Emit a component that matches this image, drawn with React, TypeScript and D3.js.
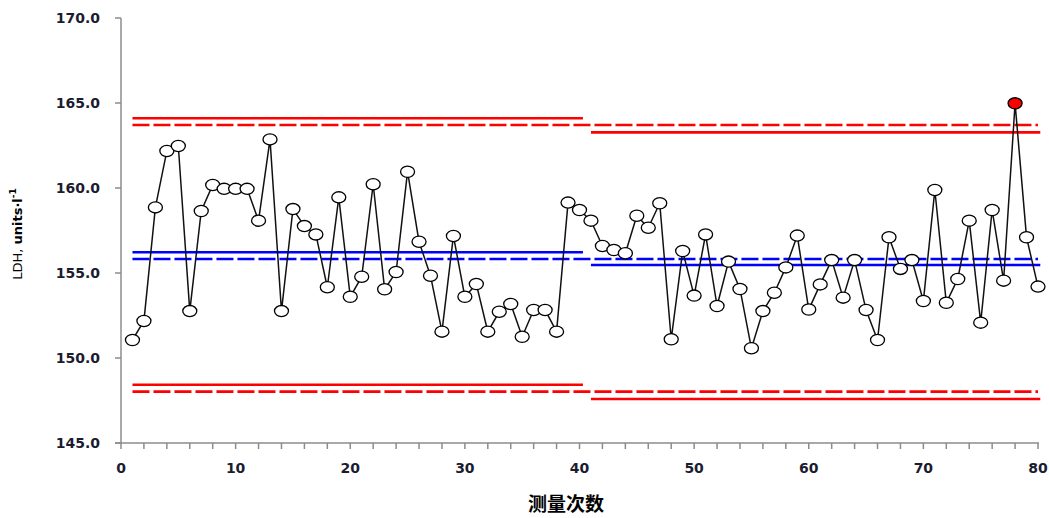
import React from "react";
import * as d3 from "d3";

const runs: number[] = d3.range(1, 81);
const ldh: number[] = [
  151.06, 152.18, 158.86, 162.18, 162.47, 152.76, 158.65, 160.18, 159.95, 159.95,
  159.95, 158.08, 162.86, 152.76, 158.76, 157.76, 157.27, 154.16, 159.45, 153.6,
  154.78, 160.22, 154.04, 155.06, 160.96, 156.84, 154.84, 151.55, 157.18, 153.6,
  154.35, 151.55, 152.72, 153.18, 151.25, 152.82, 152.82, 151.55, 159.14, 158.71,
  158.08, 156.59, 156.35, 156.16, 158.37, 157.66, 159.1, 151.1, 156.29, 153.67,
  157.27, 153.06, 155.67, 154.06, 150.57, 152.76, 153.84, 155.33, 157.2, 152.85,
  154.33, 155.76, 153.55, 155.76, 152.82, 151.06, 157.1, 155.24, 155.76, 153.35,
  159.88, 153.25, 154.65, 158.08, 152.08, 158.71, 154.55, 164.98, 157.1, 154.2,
];
const outOfControl: number[] = [78];

// control lines: [xStart, xEnd, value]
const phaseSolidRed: [number, number, number][] = [
  [1, 40.3, 164.1], [1, 40.3, 148.43],
  [41, 80.2, 163.27], [41, 80.2, 147.59],
];
const phaseSolidBlue: [number, number, number][] = [
  [1, 40.3, 156.22], [41, 80.2, 155.47],
];
const dashedRed: [number, number, number][] = [
  [1, 80, 163.71], [1, 80, 148.02],
];
const dashedBlue: [number, number, number][] = [[1, 80, 155.82]];

const yTicks: number[] = [145, 150, 155, 160, 165, 170];
const xMinorTicks: number[] = d3.range(0, 81, 2);
const xLabels: number[] = [0, 10, 20, 30, 40, 50, 60, 70, 80];

export default function App() {
  const W = 1049, H = 518;
  const x = d3.scaleLinear().domain([0, 80]).range([121, 1038]);
  const y = d3.scaleLinear().domain([145, 170]).range([443, 18]);
  const line = d3.line<number>().x((_, i) => x(runs[i])).y((d) => y(d));
  const axisColor = "#8c8c8c";
  const labelFont = "'DejaVu Sans', Verdana, sans-serif";

  const seg = (arr: [number, number, number][], color: string, dash?: string) =>
    arr.map(([a, b, v], i) => (
      <line key={color + (dash ? "d" : "s") + i} x1={x(a)} x2={x(b)} y1={y(v)} y2={y(v)}
        stroke={color} strokeWidth={2.6} strokeDasharray={dash} />
    ));

  return (
    <svg width={W} height={H} style={{ position: "absolute", left: 0, top: 0, background: "#fff" }}>
      {/* axes */}
      <line x1={x(0)} x2={x(0)} y1={y(170)} y2={y(145)} stroke={axisColor} strokeWidth={1.5} />
      <line x1={x(0) - 6} x2={x(80) + 1} y1={y(145)} y2={y(145)} stroke={axisColor} strokeWidth={1.5} />
      {yTicks.map((t) => (
        <g key={"yt" + t}>
          <line x1={x(0) - 6} x2={x(0)} y1={y(t)} y2={y(t)} stroke={axisColor} strokeWidth={1.5} />
          <text x={100} y={y(t)} dy="0.36em" textAnchor="end" fontFamily={labelFont}
            fontWeight="bold" fontSize={14} fill="#1c1c30">{t.toFixed(1)}</text>
        </g>
      ))}
      {xMinorTicks.map((t) => (
        <line key={"xt" + t} x1={x(t)} x2={x(t)} y1={y(145)} y2={y(145) + 6} stroke={axisColor} strokeWidth={1.5} />
      ))}
      {xLabels.map((t) => (
        <text key={"xl" + t} x={x(t)} y={468} dy="0.36em" textAnchor="middle" fontFamily={labelFont}
          fontWeight="bold" fontSize={14} fill="#1c1c30">{t}</text>
      ))}

      {/* control lines */}
      {seg(phaseSolidRed, "#ff0000")}
      {seg(dashedRed, "#ff0000", "17,4")}
      {seg(phaseSolidBlue, "#0000ff")}
      {seg(dashedBlue, "#0000ff", "17,4")}

      {/* data */}
      <path d={line(ldh) || ""} fill="none" stroke="#111" strokeWidth={1.5} />
      {ldh.map((v, i) => (
        <ellipse key={"p" + i} cx={x(runs[i])} cy={y(v)} rx={7} ry={5.6}
          fill={outOfControl.includes(runs[i]) ? "#ff0000" : "#fff"} stroke="#000" strokeWidth={1.3} />
      ))}

      {/* titles */}
      <text transform="translate(22,234) rotate(-90)" textAnchor="middle" fontFamily={labelFont}
        fontSize={13} fill="#000">
        <tspan>LDH, </tspan>
        <tspan fontWeight="bold">units·l</tspan>
        <tspan fontWeight="bold" fontSize={9} dy="-6">-1</tspan>
      </text>
      <text x={566} y={504} textAnchor="middle" dy="0.36em"
        fontFamily="'Noto Sans CJK SC', sans-serif" fontWeight="bold" fontSize={19} fill="#000">测量次数</text>
    </svg>
  );
}
